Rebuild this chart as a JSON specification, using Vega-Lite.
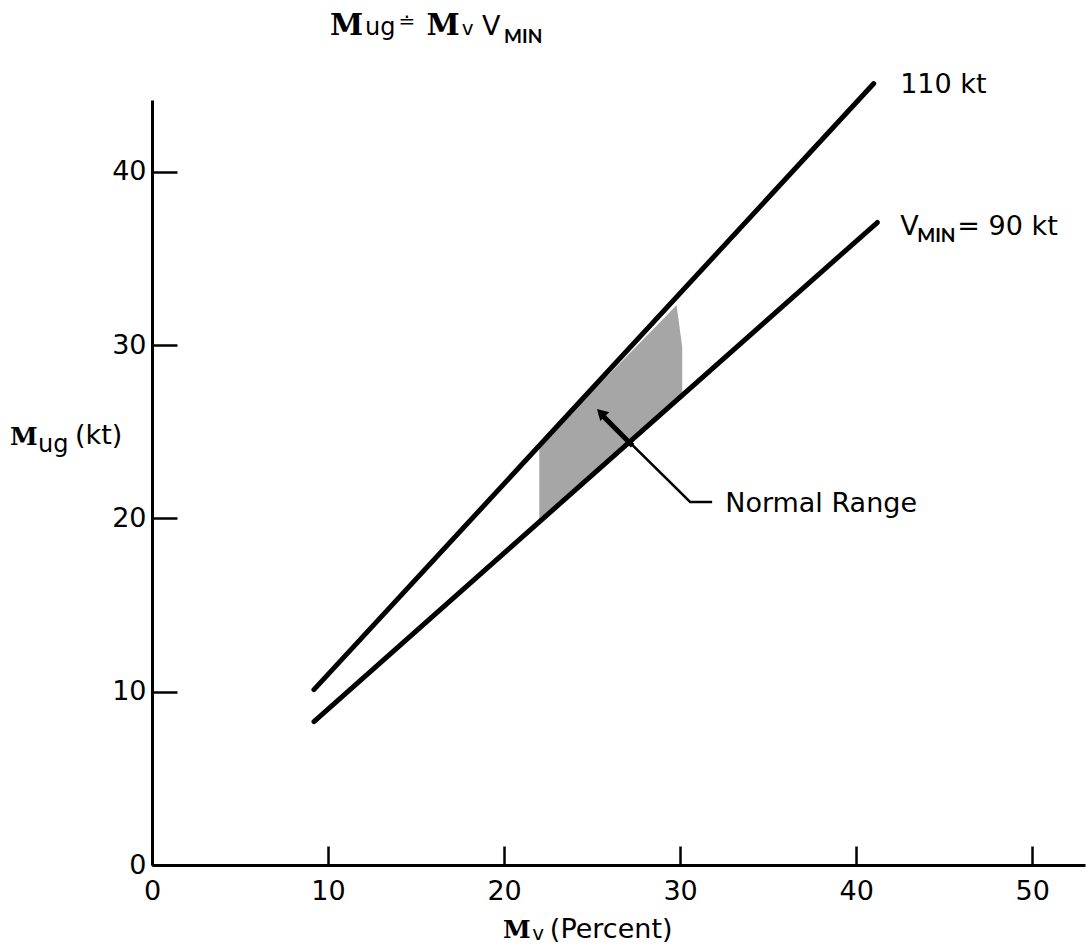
{
  "$schema": "https://vega.github.io/schema/vega-lite/v6.json",
  "width": 933,
  "height": 765,
  "autosize": {"type": "none"},
  "padding": {"left": 152, "top": 100, "right": 2, "bottom": 81},
  "background": "white",
  "config": {"view": {"stroke": null}, "font": "DejaVu Sans"},
  "datasets": {
    "speeds": [
      {"mv": 9.2, "mug": 10.12, "vmin": "110 kt"},
      {"mv": 41.0, "mug": 45.1, "vmin": "110 kt"},
      {"mv": 9.2, "mug": 8.28, "vmin": "90 kt"},
      {"mv": 41.2, "mug": 37.08, "vmin": "90 kt"}
    ],
    "normalRange": [
      {"mv": 22.0, "mug": 19.8, "mug2": 24.2},
      {"mv": 29.8, "mug": 26.82, "mug2": 32.3},
      {"mv": 30.12, "mug": 27.1, "mug2": 29.9}
    ],
    "leader": [
      {"mv": 25.45, "mug": 26.08, "step": 1},
      {"mv": 30.57, "mug": 20.95, "step": 2},
      {"mv": 31.82, "mug": 20.95, "step": 3}
    ],
    "shaft": [
      {"mv": 25.45, "mug": 26.08, "step": 1},
      {"mv": 27.3, "mug": 24.2, "step": 2}
    ],
    "tip": [{"mv": 25.5, "mug": 26.1}],
    "plainText": [
      {"mv": 42.5, "mug": 44.55, "label": "110 kt"},
      {"mv": 42.5, "mug": 36.35, "label": "V"},
      {"mv": 45.75, "mug": 36.35, "label": "= 90 kt"},
      {"mv": 32.56, "mug": 20.37, "label": "Normal Range"},
      {"mv": -4.375, "mug": 24.3, "label": "(kt)"},
      {"mv": 22.6, "mug": -4.21, "label": "(Percent)"},
      {"mv": 18.75, "mug": 47.89, "label": "V"}
    ],
    "titleM": [
      {"mv": 10.11, "mug": 47.89, "label": "M"},
      {"mv": 15.6, "mug": 47.89, "label": "M"}
    ],
    "axisM": [
      {"mv": -8.07, "mug": 24.24, "label": "M"},
      {"mv": 19.94, "mug": -4.21, "label": "M"}
    ],
    "subscripts": [
      {"mv": 12.1, "mug": 47.89, "label": "ug"},
      {"mv": -6.48, "mug": 23.83, "label": "ug"}
    ],
    "smallText": [
      {"mv": 17.6, "mug": 47.89, "label": "v"},
      {"mv": 21.6, "mug": -4.33, "label": "v"},
      {"mv": 14.0, "mug": 48.3, "label": "≐"}
    ],
    "boldSubscripts": [
      {"mv": 20.0, "mug": 47.43, "label": "MIN"},
      {"mv": 43.47, "mug": 35.95, "label": "MIN"}
    ]
  },
  "encoding": {
    "x": {
      "field": "mv",
      "type": "quantitative",
      "scale": {"domain": [0, 53], "nice": false, "zero": false},
      "axis": {
        "title": null,
        "grid": false,
        "values": [0, 10, 20, 30, 40, 50],
        "tickSize": -19,
        "tickWidth": 2.5,
        "tickColor": "black",
        "domainColor": "black",
        "domainWidth": 3,
        "labelFontSize": 27,
        "labelColor": "black",
        "labelPadding": 32,
        "labelFlush": false,
        "labelFont": "DejaVu Sans"
      }
    },
    "y": {
      "field": "mug",
      "type": "quantitative",
      "scale": {"domain": [0, 44.15], "nice": false, "zero": false},
      "axis": {
        "title": null,
        "grid": false,
        "values": [0, 10, 20, 30, 40],
        "tickSize": -25,
        "tickWidth": 2.5,
        "tickColor": "black",
        "domainColor": "black",
        "domainWidth": 3,
        "labelFontSize": 27,
        "labelColor": "black",
        "labelPadding": 31,
        "labelFlush": false,
        "labelFont": "DejaVu Sans"
      }
    }
  },
  "layer": [
    {
      "data": {"name": "normalRange"},
      "mark": {"type": "area", "color": "#a6a6a6", "opacity": 1},
      "encoding": {"y2": {"field": "mug2"}}
    },
    {
      "data": {"name": "speeds"},
      "mark": {"type": "line", "color": "black", "strokeWidth": 5, "strokeCap": "round"},
      "encoding": {"detail": {"field": "vmin", "type": "nominal"}}
    },
    {
      "data": {"name": "leader"},
      "mark": {"type": "line", "color": "black", "strokeWidth": 2.5},
      "encoding": {"order": {"field": "step", "type": "quantitative"}}
    },
    {
      "data": {"name": "shaft"},
      "mark": {"type": "line", "color": "black", "strokeWidth": 5},
      "encoding": {"order": {"field": "step", "type": "quantitative"}}
    },
    {
      "data": {"name": "tip"},
      "mark": {"type": "point", "shape": "triangle-up", "filled": true, "color": "black", "size": 160, "angle": 315, "opacity": 1}
    },
    {
      "data": {"name": "plainText"},
      "mark": {"type": "text", "align": "left", "baseline": "alphabetic", "fontSize": 27, "font": "DejaVu Sans", "color": "black"},
      "encoding": {"text": {"field": "label"}}
    },
    {
      "data": {"name": "titleM"},
      "mark": {"type": "text", "align": "left", "baseline": "alphabetic", "fontSize": 30, "font": "DejaVu Serif", "fontWeight": "bold", "color": "black"},
      "encoding": {"text": {"field": "label"}}
    },
    {
      "data": {"name": "axisM"},
      "mark": {"type": "text", "align": "left", "baseline": "alphabetic", "fontSize": 25, "font": "DejaVu Serif", "fontWeight": "bold", "color": "black"},
      "encoding": {"text": {"field": "label"}}
    },
    {
      "data": {"name": "subscripts"},
      "mark": {"type": "text", "align": "left", "baseline": "alphabetic", "fontSize": 24, "font": "DejaVu Sans", "color": "black"},
      "encoding": {"text": {"field": "label"}}
    },
    {
      "data": {"name": "smallText"},
      "mark": {"type": "text", "align": "left", "baseline": "alphabetic", "fontSize": 20, "font": "DejaVu Sans", "color": "black"},
      "encoding": {"text": {"field": "label"}}
    },
    {
      "data": {"name": "boldSubscripts"},
      "mark": {"type": "text", "align": "left", "baseline": "alphabetic", "fontSize": 19, "font": "Lato", "fontWeight": "bold", "color": "black"},
      "encoding": {"text": {"field": "label"}}
    }
  ]
}
